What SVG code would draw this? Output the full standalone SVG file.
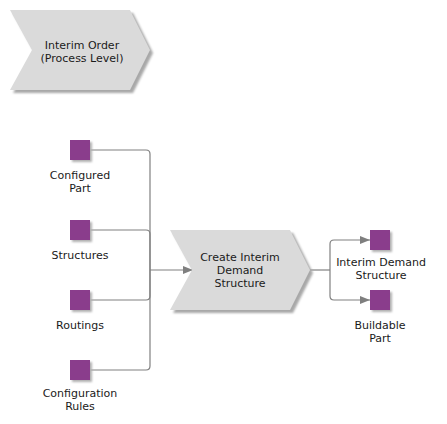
<svg xmlns="http://www.w3.org/2000/svg" width="447" height="424" viewBox="0 0 447 424">
<defs>
<filter id="sh" x="-10%" y="-10%" width="130%" height="130%">
<feGaussianBlur stdDeviation="1.2"/>
</filter>
<marker id="ar" markerWidth="10" markerHeight="8" refX="10" refY="4" orient="auto" markerUnits="userSpaceOnUse">
<path d="M0,0 L10,4 L0,8 Z" fill="#7f7f7f"/>
</marker>
<path id="chev" d="M0,0 H120 L140,40 L120,80 H0 L22,40 Z"/>
</defs>
<style>
text{font-family:"DejaVu Sans",Verdana,sans-serif;font-size:11px;fill:#1a1a1a;text-anchor:middle}
.fn{fill:#dadada}
.shd{fill:#a8a8a8;filter:url(#sh)}
.sq{fill:#8a3d8c}
.sqs{fill:#b0b0b0;filter:url(#sh)}
.ln{fill:none;stroke:#808080;stroke-width:1.2}
</style>
<rect width="447" height="424" fill="#ffffff"/>

<g id="interim-order">
<use href="#chev" x="13" y="13" class="shd"/>
<use href="#chev" x="10" y="10" class="fn"/>
<text x="82" y="49">Interim Order</text>
<text x="82" y="62">(Process Level)</text>
</g>

<g id="connectors">
<path class="ln" d="M90,150 H146 Q150,150 150,154 V270"/>
<path class="ln" d="M90,230 H146 Q150,230 150,234 V270"/>
<path class="ln" d="M90,300 H146 Q150,300 150,296 V270"/>
<path class="ln" d="M90,370 H146 Q150,370 150,366 V270"/>
<path class="ln" d="M150,270 Q150,270 154,270 H193" marker-end="url(#ar)"/>
<path class="ln" d="M310,270 H330"/>
<path class="ln" d="M330,270 V244 Q330,240 334,240 H370" marker-end="url(#ar)"/>
<path class="ln" d="M330,270 V296 Q330,300 334,300 H370" marker-end="url(#ar)"/>
</g>

<g id="configured-part">
<rect x="72" y="142" width="20" height="20" class="sqs"/>
<rect x="70" y="140" width="20" height="20" class="sq"/>
<text x="80" y="179">Configured</text>
<text x="80" y="192">Part</text>
</g>

<g id="structures">
<rect x="72" y="222" width="20" height="20" class="sqs"/>
<rect x="70" y="220" width="20" height="20" class="sq"/>
<text x="80" y="259">Structures</text>
</g>

<g id="routings">
<rect x="72" y="292" width="20" height="20" class="sqs"/>
<rect x="70" y="290" width="20" height="20" class="sq"/>
<text x="80" y="329">Routings</text>
</g>

<g id="configuration-rules">
<rect x="72" y="362" width="20" height="20" class="sqs"/>
<rect x="70" y="360" width="20" height="20" class="sq"/>
<text x="80" y="397">Configuration</text>
<text x="80" y="410">Rules</text>
</g>

<g id="create-interim-demand-structure">
<use href="#chev" x="173" y="233" class="shd"/>
<use href="#chev" x="170" y="230" class="fn"/>
<text x="240" y="261">Create Interim</text>
<text x="240" y="274">Demand</text>
<text x="240" y="287">Structure</text>
</g>

<g id="interim-demand-structure">
<rect x="372" y="232" width="20" height="20" class="sqs"/>
<rect x="370" y="230" width="20" height="20" class="sq"/>
<text x="381" y="266">Interim Demand</text>
<text x="381" y="279">Structure</text>
</g>

<g id="buildable-part">
<rect x="372" y="292" width="20" height="20" class="sqs"/>
<rect x="370" y="290" width="20" height="20" class="sq"/>
<text x="380" y="329">Buildable</text>
<text x="380" y="342">Part</text>
</g>
</svg>
